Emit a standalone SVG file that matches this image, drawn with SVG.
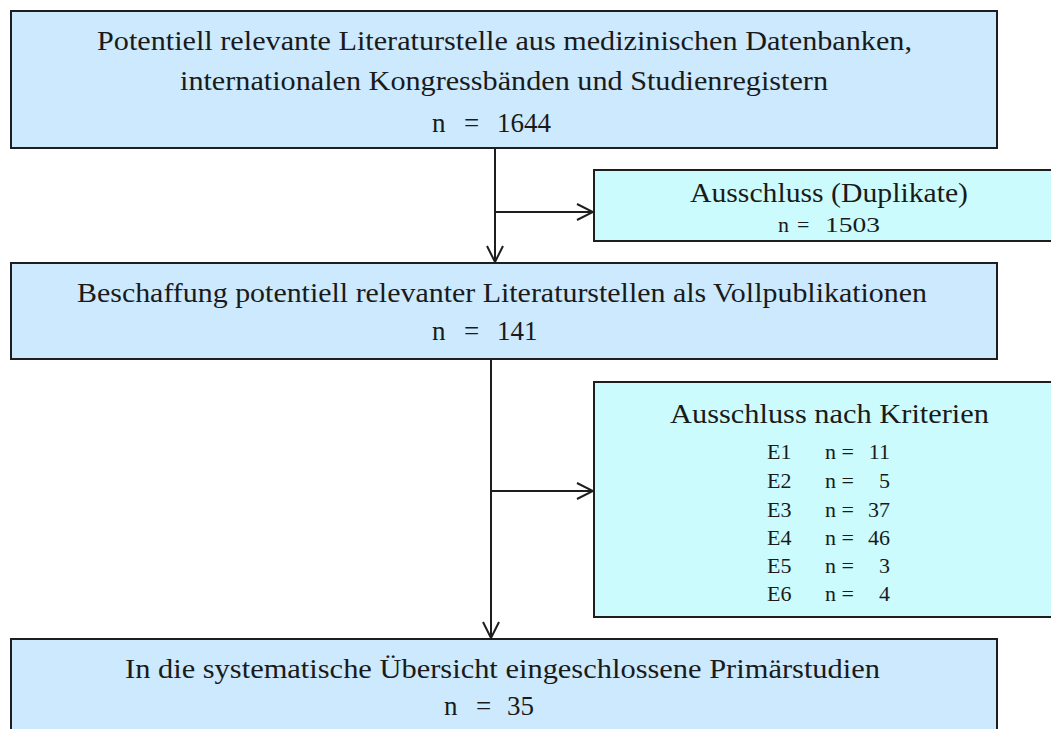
<svg xmlns="http://www.w3.org/2000/svg" width="1051" height="729" viewBox="0 0 1051 729">
<style>
.main{fill:#CCE9FD;stroke:#1e1e1e;stroke-width:2}
.side{fill:#CCFBFE;stroke:#1e1e1e;stroke-width:2}
text{font-family:"Liberation Serif","Times New Roman",serif;fill:#1a1a1a}
.t{font-size:27px}
.s{font-size:22px}
.c{stroke:#1e1e1e;stroke-width:2;fill:none}
</style>
<defs>
<marker id="ah" viewBox="0 0 20 20" refX="18" refY="10" markerWidth="20" markerHeight="20" markerUnits="userSpaceOnUse" orient="auto">
<path d="M2,2 L18,10 L2,18" fill="none" stroke="#1e1e1e" stroke-width="2"/>
</marker>
</defs>
<rect width="1051" height="729" fill="#ffffff"/>
<g id="node-1">
<rect class="main" x="11" y="11" width="986" height="137"/>
<text class="t" x="97" y="50" textLength="815" lengthAdjust="spacingAndGlyphs">Potentiell relevante Literaturstelle aus medizinischen Datenbanken,</text>
<text class="t" x="180" y="90" textLength="648" lengthAdjust="spacingAndGlyphs">internationalen Kongressbänden und Studienregistern</text>
<text class="t" x="432" y="132">n <tspan x="464">=</tspan> <tspan x="497">1644</tspan></text>
</g>
<g id="node-2">
<rect class="side" x="594" y="170" width="460" height="71"/>
<text class="t" x="690" y="202" textLength="278" lengthAdjust="spacingAndGlyphs">Ausschluss (Duplikate)</text>
<text class="s" x="778" y="232">n <tspan x="797">=</tspan> <tspan x="825" textLength="55" lengthAdjust="spacingAndGlyphs">1503</tspan></text>
</g>
<g id="node-3">
<rect class="main" x="11" y="263" width="986" height="96"/>
<text class="t" x="77" y="302" textLength="850" lengthAdjust="spacingAndGlyphs">Beschaffung potentiell relevanter Literaturstellen als Vollpublikationen</text>
<text class="t" x="432" y="340">n <tspan x="464">=</tspan> <tspan x="497">141</tspan></text>
</g>
<g id="node-4">
<rect class="side" x="594" y="382" width="460" height="235"/>
<text class="t" x="670" y="423" textLength="319" lengthAdjust="spacingAndGlyphs">Ausschluss nach Kriterien</text>
<g class="s">
<text x="767" y="459">E1</text><text x="825" y="459">n =</text><text x="890" y="459" text-anchor="end">11</text>
<text x="767" y="488">E2</text><text x="825" y="488">n =</text><text x="890" y="488" text-anchor="end">5</text>
<text x="767" y="517">E3</text><text x="825" y="517">n =</text><text x="890" y="517" text-anchor="end">37</text>
<text x="767" y="545">E4</text><text x="825" y="545">n =</text><text x="890" y="545" text-anchor="end">46</text>
<text x="767" y="573">E5</text><text x="825" y="573">n =</text><text x="890" y="573" text-anchor="end">3</text>
<text x="767" y="601">E6</text><text x="825" y="601">n =</text><text x="890" y="601" text-anchor="end">4</text>
</g>
</g>
<g id="node-5">
<rect class="main" x="11" y="639" width="986" height="100"/>
<text class="t" x="125" y="678" textLength="755" lengthAdjust="spacingAndGlyphs">In die systematische Übersicht eingeschlossene Primärstudien</text>
<text class="t" x="444" y="715">n <tspan x="476">=</tspan> <tspan x="507">35</tspan></text>
</g>
<g id="connectors">
<line class="c" x1="495" y1="148" x2="495" y2="262" marker-end="url(#ah)"/>
<line class="c" x1="495" y1="212" x2="593" y2="212" marker-end="url(#ah)"/>
<line class="c" x1="491" y1="359" x2="491" y2="638" marker-end="url(#ah)"/>
<line class="c" x1="491" y1="491" x2="593" y2="491" marker-end="url(#ah)"/>
</g>
</svg>
